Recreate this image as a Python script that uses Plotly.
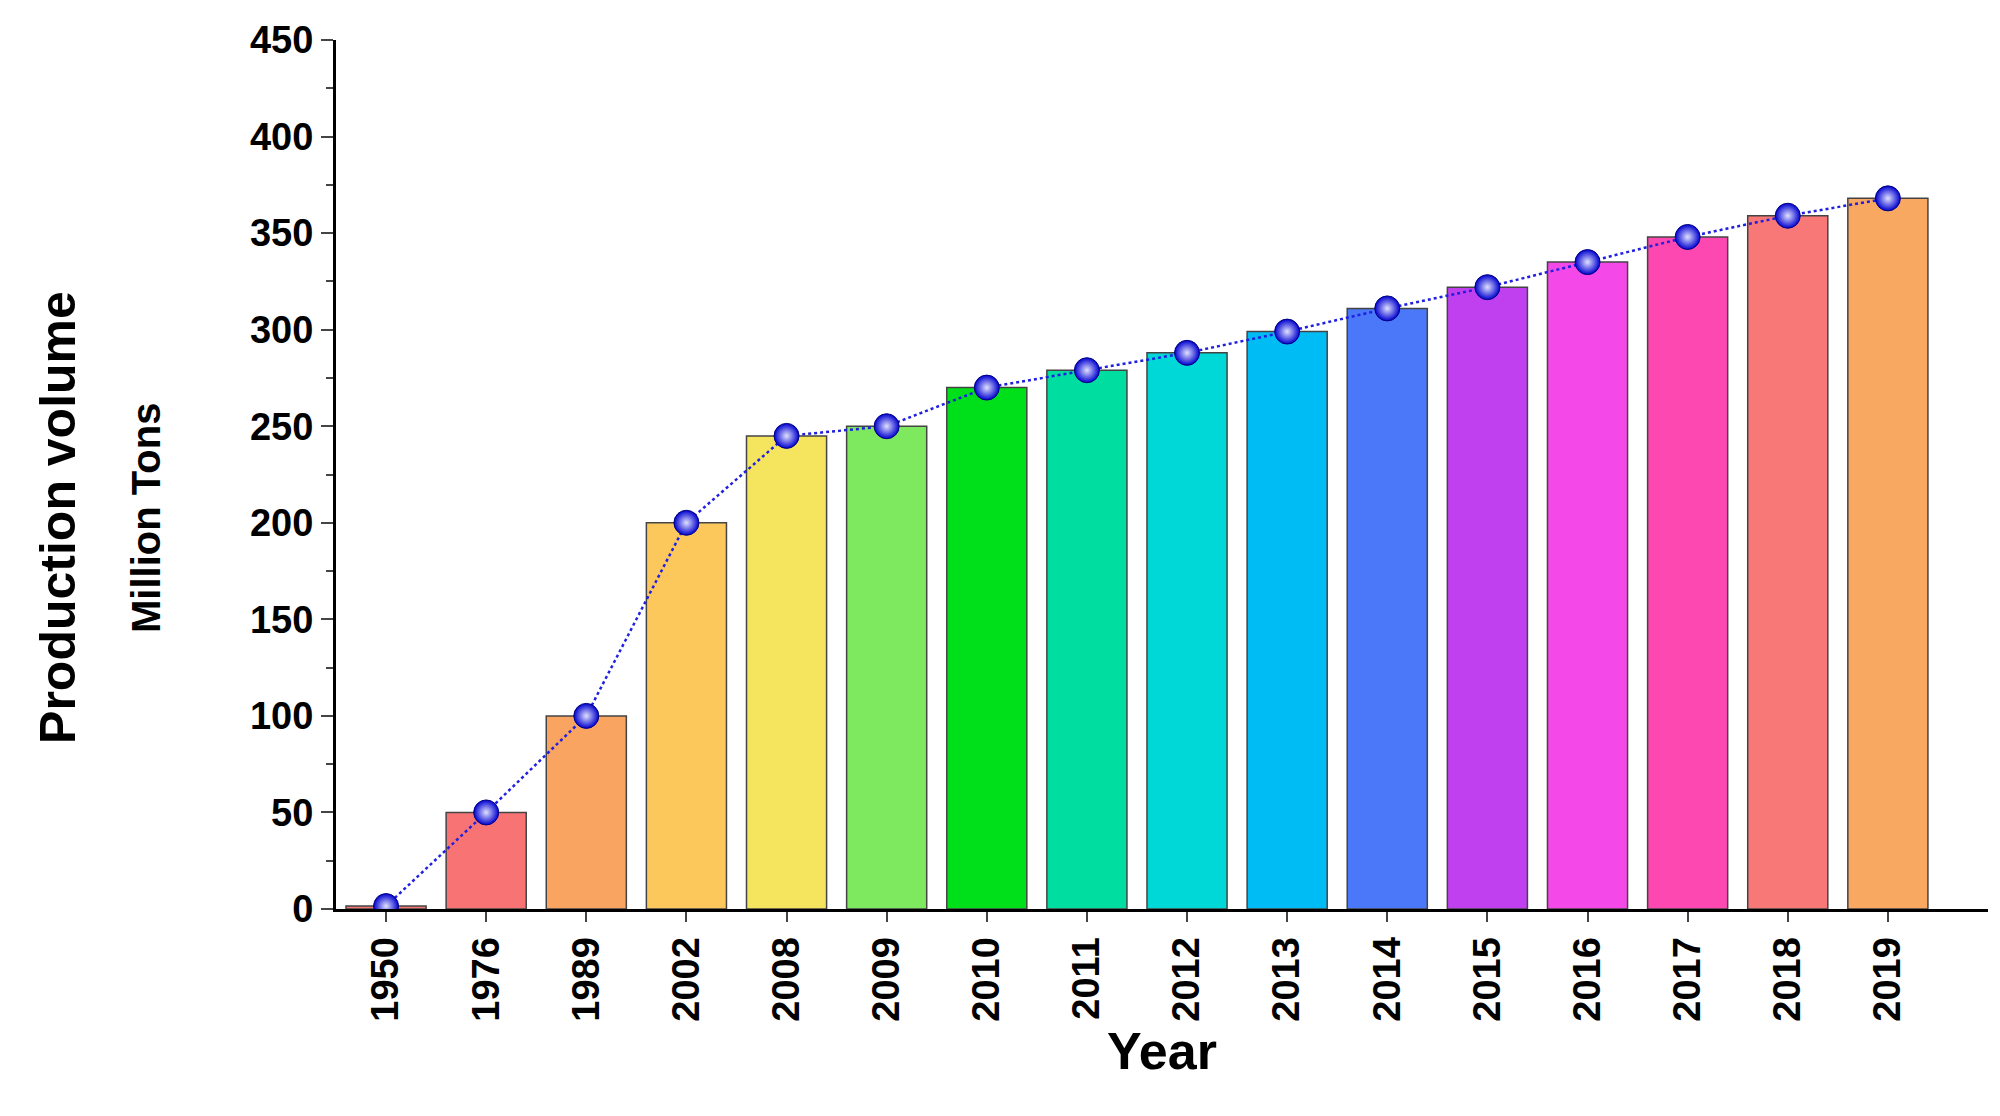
import plotly.graph_objects as go

years = ["1950", "1976", "1989", "2002", "2008", "2009", "2010", "2011",
         "2012", "2013", "2014", "2015", "2016", "2017", "2018", "2019"]
volume = [1.5, 50, 100, 200, 245, 250, 270, 279, 288, 299, 311, 322, 335, 348, 359, 368]
bar_colors = ["#f87474", "#f87474", "#f9a460", "#fcc85c", "#f5e55e", "#7ee85e", "#00e01a", "#00dda0",
              "#00d8d8", "#00bcf5", "#4a78f8", "#c040f0", "#f448e8", "#fc48b0", "#f87878", "#f8a860"]

xs = list(range(len(years)))
font = "Liberation Sans, Arial, sans-serif"
L, R, T, B = 328, 20, 32, 215

fig = go.Figure()
fig.add_trace(go.Bar(x=xs, y=volume, width=0.8, marker=dict(color=bar_colors, line=dict(color="#444444", width=1.5)),
                     showlegend=False))
fig.add_trace(go.Scatter(x=xs, y=volume, mode="lines+markers", showlegend=False,
                         line=dict(color="#2020e0", width=2.5, dash="dot"),
                         marker=dict(size=25, color="#0000d0", line=dict(width=1, color="#000080"),
                                     gradient=dict(type="radial", color="#e0e0ff"))))

fig.update_layout(
    width=2000, height=1116, plot_bgcolor="white", paper_bgcolor="white",
    margin=dict(l=L, r=R, t=T, b=B),
    font=dict(family=font, color="black"),
    annotations=[
        dict(text="<b>Production volume</b>", x=(50 - L) / (2000 - L - R), y=0.45, xref="paper", yref="paper",
             showarrow=False, textangle=-90, font=dict(size=50), xanchor="center", yanchor="middle"),
        dict(text="<b>Million Tons</b>", x=(138 - L) / (2000 - L - R), y=0.45, xref="paper", yref="paper",
             showarrow=False, textangle=-90, font=dict(size=40), xanchor="center", yanchor="middle"),
    ],
)
fig.update_xaxes(range=[-0.5, 16], tickvals=xs, ticktext=[f"<b>{y}</b>" for y in years], tickangle=-90,
                 tickfont=dict(size=38), showline=True, linecolor="black", linewidth=3,
                 ticks="outside", ticklen=10, tickwidth=2, showgrid=False,
                 title=dict(text="<b>Year</b>", font=dict(size=52), standoff=12))
fig.update_yaxes(range=[0, 450], dtick=50, tickfont=dict(size=38), tickformat="d",
                 tickprefix="<b>", ticksuffix="</b>",
                 showline=True, linecolor="black", linewidth=3, ticks="outside", ticklen=12, tickwidth=2,
                 minor=dict(dtick=25, ticks="outside", ticklen=7, tickwidth=2), showgrid=False, zeroline=False)

fig.write_html("out.html")
